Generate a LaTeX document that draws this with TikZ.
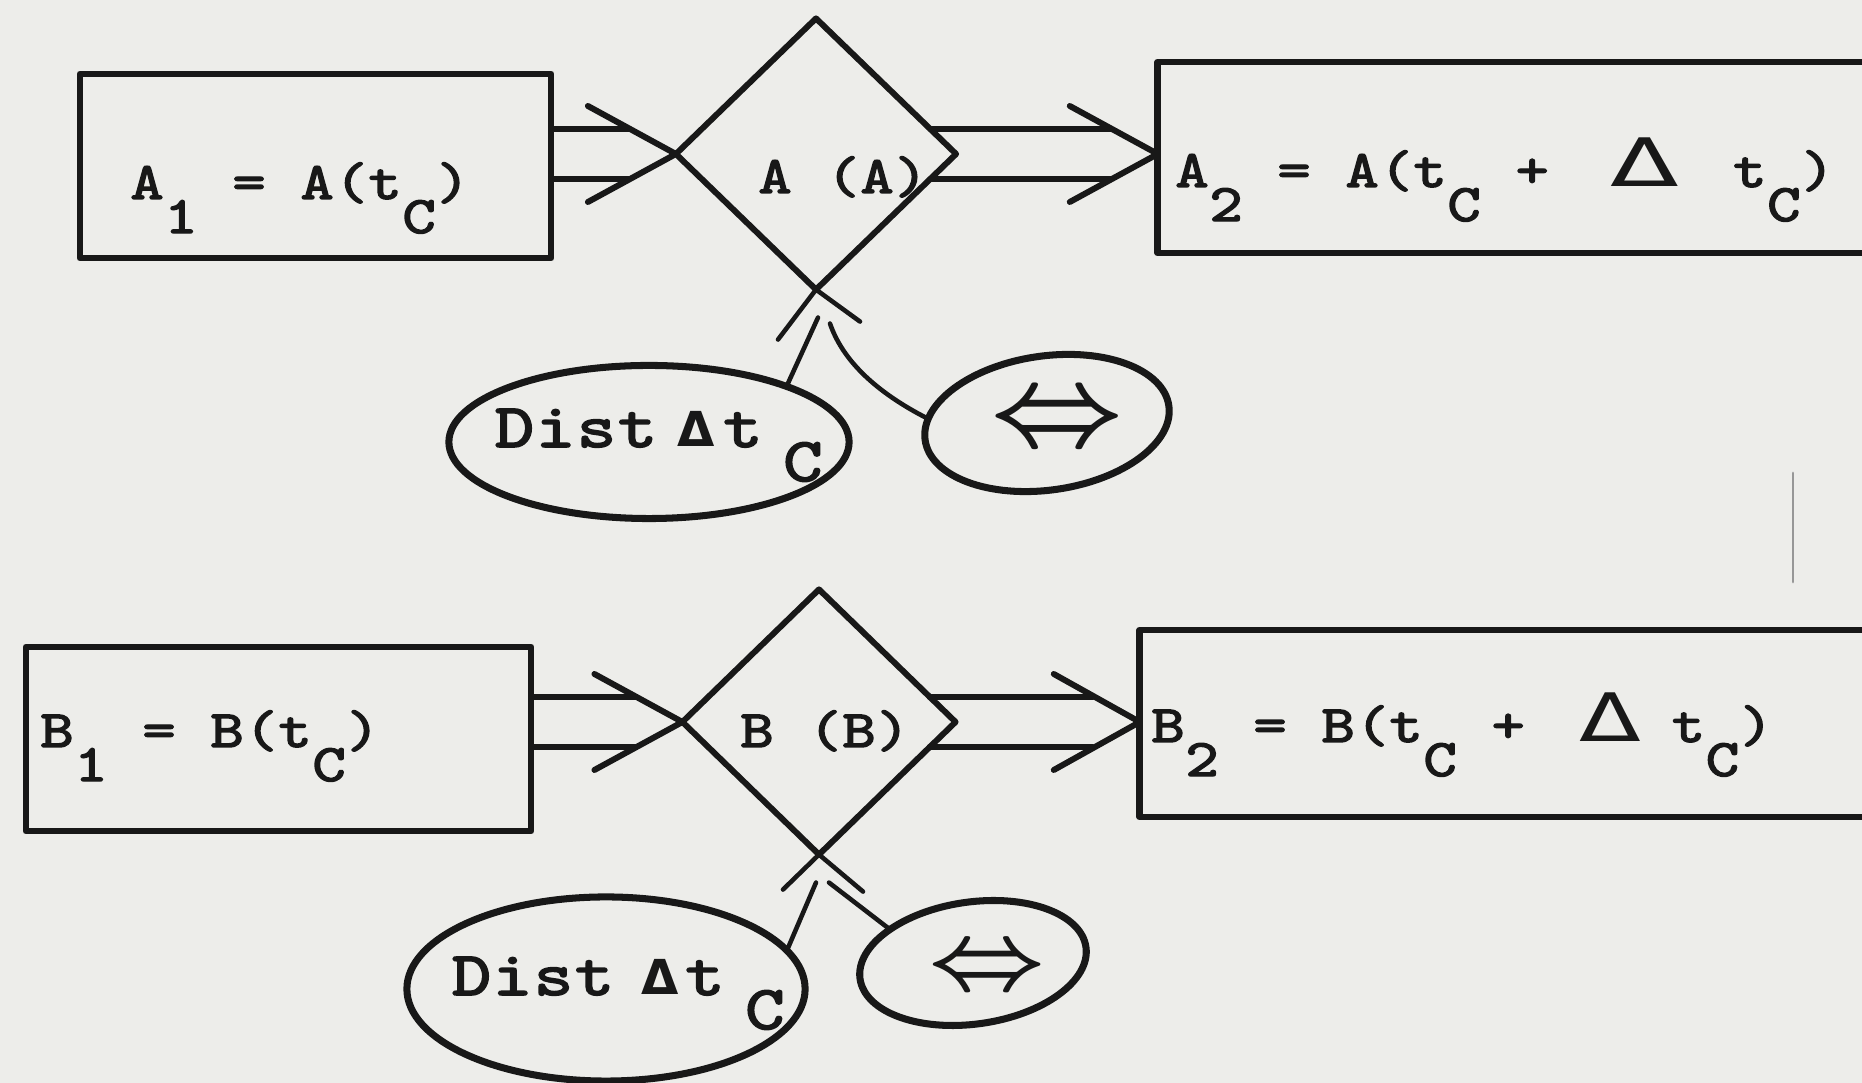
\documentclass[tikz,border=0pt]{standalone}
\usepackage{fontspec}
\usepackage{graphicx}
\usetikzlibrary{shapes.geometric,calc}
\newfontfamily\twfont{lmmono10-regular.otf}[FakeBold=2.5]
\newfontfamily\dvfont{DejaVu Sans}
\definecolor{paper}{RGB}{237,237,234}
\definecolor{ink}{RGB}{24,24,24}
\newlength\pitch
\newcommand\dn[1]{\raisebox{-0.34cm}{#1}}
\def\typloop#1{\ifx\relax#1\else\makebox[\pitch]{\scalebox{1.2}[1]{#1}}\expandafter\typloop\fi}
\newcommand\typ[1]{\typloop#1\relax}
\newcommand\bigDelta[1]{\makebox[2\pitch]{\dvfont\fontsize{19}{20}\selectfont\scalebox{#1}[1]{Δ}}}
\newcommand\smallDelta{{\dvfont\bfseries\fontsize{13.7}{15}\selectfont Δ}}
\begin{document}
\begin{tikzpicture}[x=0.01cm,y=-0.01cm, line join=round, line cap=round,
  box/.style={draw=ink, line width=1.9pt, rectangle, inner sep=0pt, outer sep=0pt},
  dia/.style={draw=ink, line width=1.7pt, diamond, inner sep=0pt, outer sep=0pt},
  oval/.style={draw=ink, line width=2pt, ellipse, inner sep=0pt, outer sep=0pt},
  conn/.style={draw=ink, line width=1.7pt},
  thinconn/.style={draw=ink, line width=1.3pt},
  txt/.style={inner sep=0pt, outer sep=0pt, anchor=base west, text=ink},
  small/.style={font=\twfont\fontsize{15}{18}\selectfont\setlength\pitch{0.34cm}},
  big/.style={font=\twfont\fontsize{17.7}{20}\selectfont\setlength\pitch{0.41cm}},
  sym/.style={inner sep=0pt, outer sep=0pt, text=ink}
]
\useasboundingbox (0,0) rectangle (1862,1083);
\fill[paper] (0,0) rectangle (1862,1083);
\clip (0,0) rectangle (1862,1083);

% ---------- top row ----------
\node[box, minimum width=4.71cm, minimum height=1.84cm] (A1) at (315.5,166) {};
\node[dia, minimum width=2.80cm, minimum height=2.71cm] (dA) at (816,154) {};
\node[box, minimum width=7.17cm, minimum height=1.91cm] (A2) at (1516.5,157.5) {};
\node[oval, minimum width=4.00cm, minimum height=1.53cm] (distA) at (649,442) {};
\node[oval, minimum width=2.46cm, minimum height=1.34cm, rotate=8] (eqA) at (1047,423) {};

\node[txt, small] (tA1) at (130,199) {\typ{A{\dn 1}~=~A(t{\dn C})}};
\node[txt, small] (tdA) at (758,193) {\typ{A~(A)}};
\node[txt, small] (tA2) at (1175,187) {\typ{A{\dn 2}~=~A(t{\dn C}~+}\hspace{1.8\pitch}\bigDelta{1.5}\hspace{1.6\pitch}\typ{t{\dn C})}};
\node[txt, big] (tdistA) at (494,447) {\typ{Dist}\hspace{0.19cm}\smallDelta\hspace{0.08cm}\typ{t}\hspace{0.19cm}\typ{{\dn C}}};
\node[sym] (sA) at (1057,423) {\scalebox{3.3}[3.2]{\boldmath$\Leftrightarrow$}};

% double arrow A1 -> diamond A
\coordinate (uA) at ($(dA.west)+(0,-25)$);
\coordinate (lA) at ($(dA.west)+(0,25)$);
\draw[conn] (uA -| A1.east) -- ($(uA)+(-47,0)$);
\draw[conn] (lA -| A1.east) -- ($(lA)+(-47,0)$);
\draw[conn] ($(dA.west)+(-88,-48)$) -- (dA.west) -- ($(dA.west)+(-88,48)$);

% double arrow diamond A -> A2
\coordinate (tipA2) at (dA.east -| A2.west);
\draw[conn] ($(dA.east)+(-26,-25)$) -- ($(tipA2)+(-47,-25)$);
\draw[conn] ($(dA.east)+(-26,25)$) -- ($(tipA2)+(-47,25)$);
\draw[conn] ($(tipA2)+(-88,-48)$) -- (tipA2) -- ($(tipA2)+(-88,48)$);

% inputs to diamond A
\draw[thinconn] ($(dA.south)+(-38,50)$) -- (dA.south) -- ($(dA.south)+(44,32)$);
\draw[thinconn] (distA.22) -- ($(dA.south)+(2,28)$);
\draw[thinconn] (eqA.170) .. controls +(-55,-28) and +(12,35) .. ($(dA.south)+(14,34)$);

% ---------- bottom row ----------
\node[box, minimum width=5.05cm, minimum height=1.84cm] (B1) at (278.5,739) {};
\node[dia, minimum width=2.73cm, minimum height=2.65cm] (dB) at (819,722) {};
\node[box, minimum width=7.35cm, minimum height=1.87cm] (B2) at (1507.5,723.5) {};
\node[oval, minimum width=3.98cm, minimum height=1.84cm] (distB) at (606,989) {};
\node[oval, minimum width=2.28cm, minimum height=1.22cm, rotate=8] (eqB) at (973,963) {};

\node[txt, small] (tB1) at (40,747) {\typ{B{\dn 1}~=~B(t{\dn C})}};
\node[txt, small] (tdB) at (740,747) {\typ{B~(B)}};
\node[txt, small] (tB2) at (1151,742) {\typ{B{\dn 2}~=~B(t{\dn C}~+}\hspace{1.5\pitch}\bigDelta{1.35}\hspace{0.8\pitch}\typ{t{\dn C})}};
\node[txt, big] (tdistB) at (451,995) {\typ{Dist}\hspace{0.26cm}\smallDelta\hspace{0.06cm}\typ{t}\hspace{0.19cm}\typ{{\dn C}}};
\node[sym] (sB) at (987,970) {\scalebox{2.9}[2.7]{\boldmath$\Leftrightarrow$}};

% double arrow B1 -> diamond B
\coordinate (uB) at ($(dB.west)+(0,-25)$);
\coordinate (lB) at ($(dB.west)+(0,25)$);
\draw[conn] (uB -| B1.east) -- ($(uB)+(-47,0)$);
\draw[conn] (lB -| B1.east) -- ($(lB)+(-47,0)$);
\draw[conn] ($(dB.west)+(-88,-48)$) -- (dB.west) -- ($(dB.west)+(-88,48)$);

% double arrow diamond B -> B2
\coordinate (tipB2) at (dB.east -| B2.west);
\draw[conn] ($(dB.east)+(-26,-25)$) -- ($(tipB2)+(-47,-25)$);
\draw[conn] ($(dB.east)+(-26,25)$) -- ($(tipB2)+(-47,25)$);
\draw[conn] ($(tipB2)+(-86,-48)$) -- (tipB2) -- ($(tipB2)+(-86,48)$);

% inputs to diamond B
\draw[thinconn] ($(dB.south)+(-36,35)$) -- (dB.south) -- ($(dB.south)+(44,37)$);
\draw[thinconn] (distB.12) -- ($(dB.south)+(-3,28)$);
\draw[thinconn] (eqB.150) -- ($(dB.south)+(10,28)$);

% stray vertical mark on the page
\draw[ink!45, line width=0.8pt] (1793,473) -- (1793,582);
\end{tikzpicture}
\end{document}
